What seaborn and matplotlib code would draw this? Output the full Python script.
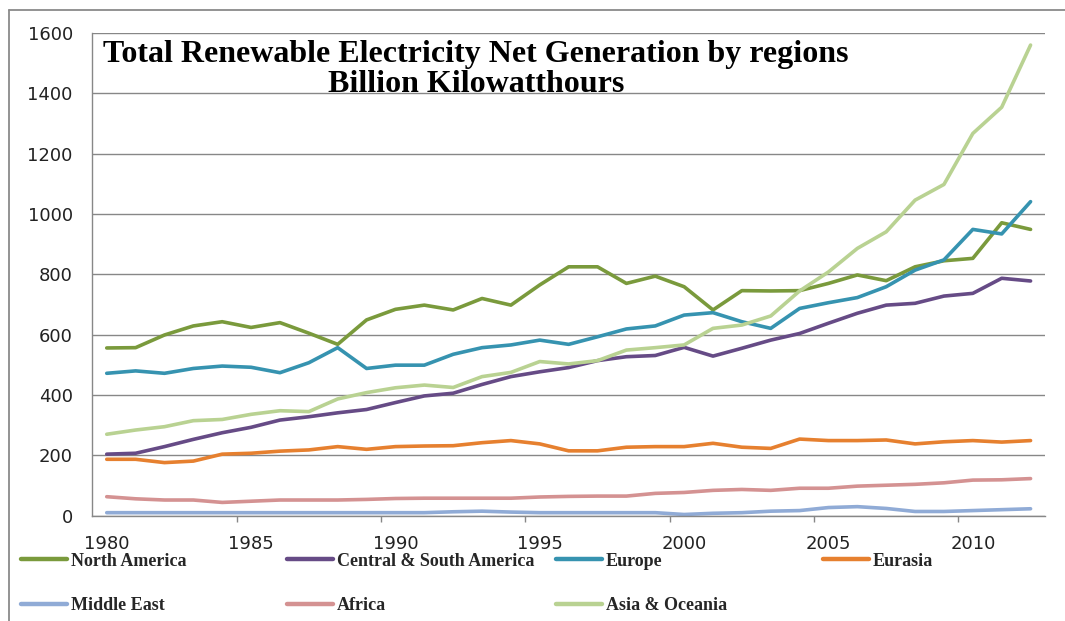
import matplotlib
matplotlib.use("Agg")
import matplotlib.pyplot as plt
from matplotlib.lines import Line2D
import seaborn as sns
import pandas as pd

# Renewable electricity net generation, billion kWh, 1980-2012
years = list(range(1980, 2013))

north_america = [556, 557, 599, 629, 643, 624, 640, 605, 568, 649,
                 684, 698, 682, 720, 698, 765, 825, 825, 770, 794,
                 759, 682, 746, 745, 746, 770, 798, 779, 825, 845,
                 853, 971, 949]
central_south_america = [204, 207, 229, 253, 275, 293, 317, 328, 341, 352,
                         375, 397, 406, 435, 461, 477, 491, 514, 527, 531,
                         558, 529, 555, 582, 604, 638, 671, 698, 704, 728,
                         737, 787, 778]
europe = [472, 480, 472, 488, 496, 492, 474, 507, 557, 488,
          499, 499, 535, 557, 566, 582, 568, 593, 619, 629,
          665, 673, 643, 621, 687, 706, 723, 759, 814, 848,
          949, 934, 1041]
eurasia = [187, 187, 176, 181, 204, 207, 214, 218, 229, 220,
           229, 231, 232, 242, 249, 238, 215, 215, 227, 229,
           229, 240, 227, 223, 254, 249, 249, 251, 238, 245,
           249, 244, 249]
middle_east = [10, 10, 10, 10, 10, 10, 10, 10, 10, 10,
               10, 10, 13, 15, 12, 10, 10, 10, 10, 10,
               4, 8, 10, 15, 17, 27, 30, 24, 14, 14,
               17, 20, 23]
africa = [63, 56, 52, 52, 44, 48, 52, 52, 52, 54,
          57, 58, 58, 58, 58, 62, 64, 65, 65, 74,
          77, 84, 87, 84, 91, 91, 98, 101, 104, 109,
          118, 119, 123]
asia_oceania = [270, 284, 295, 315, 319, 336, 348, 345, 387, 408,
                424, 433, 425, 461, 475, 511, 503, 514, 549, 557,
                566, 621, 632, 662, 745, 808, 886, 941, 1046, 1098,
                1267, 1354, 1560]

regions = ["North America", "Central & South America", "Europe", "Eurasia",
           "Middle East", "Africa", "Asia & Oceania"]
series = [north_america, central_south_america, europe, eurasia,
          middle_east, africa, asia_oceania]
colors = ["#7A9A3C", "#664B86", "#3693B0", "#E6802F",
          "#90ABD6", "#D49292", "#B9D292"]
palette = dict(zip(regions, colors))

y_ticks = [0, 200, 400, 600, 800, 1000, 1200, 1400, 1600]
x_label_years = [1980, 1985, 1990, 1995, 2000, 2005, 2010]

df = pd.DataFrame({
    "Year": [y for _ in regions for y in years],
    "Value": [v for s in series for v in s],
    "Region": [r for r in regions for _ in years],
})

sns.set_style("white")
plt.rcParams["font.family"] = ["DejaVu Sans"]

W, H = 1065, 621
fig = plt.figure(figsize=(W / 100, H / 100), dpi=100)
ax = fig.add_axes([92.3 / W, 1 - 515.7 / H, (1045 - 92.3) / W, (515.7 - 33) / H])

sns.lineplot(data=df, x="Year", y="Value", hue="Region", hue_order=regions,
             palette=palette, linewidth=2.6, legend=False, ax=ax)
for ln in ax.get_lines():
    ln.set_solid_joinstyle("round")
    ln.set_solid_capstyle("round")

grid_c = "#878787"
ax.set_xlim(1979.5, 2012.5)
ax.set_ylim(0, 1600)
ax.set_yticks(y_ticks)
ax.set_yticklabels([str(v) for v in y_ticks])
ax.set_xticks(x_label_years)
ax.set_xticklabels([str(v) for v in x_label_years])
ax.set_xticks([y - 0.5 for y in x_label_years[1:]], minor=True)
ax.yaxis.grid(True, color=grid_c, linewidth=1.0)
ax.xaxis.grid(False)
ax.set_axisbelow(True)
ax.set_xlabel("")
ax.set_ylabel("")

for side in ("top", "right"):
    ax.spines[side].set_visible(False)
for side in ("left", "bottom"):
    ax.spines[side].set_color(grid_c)
    ax.spines[side].set_linewidth(1.0)

ax.tick_params(axis="y", which="major", length=5, width=1, color=grid_c,
               pad=9, labelsize=13, labelcolor="#222222")
ax.tick_params(axis="x", which="major", length=0, pad=14, labelsize=13,
               labelcolor="#222222")
ax.tick_params(axis="x", which="minor", length=4.5, width=1, color=grid_c,
               direction="out", bottom=True)

# Chart title inside the plot area
fig.text(476 / W, 1 - 69.5 / H,
         "Total Renewable Electricity Net Generation by regions\nBillion Kilowatthours",
         ha="center", va="center", multialignment="center", linespacing=1.06,
         family="Liberation Serif", fontweight="bold", fontsize=23, color="black")

# Legend below the plot, laid out in four columns
col_x = [21, 287, 556, 823]
columns = [[0, 4], [1, 5], [2, 6], [3]]
for cx, idx in zip(col_x, columns):
    handles = [Line2D([], [], color=colors[i], linewidth=3.2) for i in idx]
    labels = [regions[i] for i in idx]
    cy = 561 if len(idx) == 1 else 583.5
    fig.legend(handles, labels, loc="center left",
               bbox_to_anchor=(cx / W, 1 - cy / H),
               frameon=False, borderpad=0, borderaxespad=0,
               handlelength=2.55, handletextpad=0.2, labelspacing=1.55,
               prop={"family": "Liberation Serif", "weight": "bold", "size": 13})

# Thin outer frame along the top and left of the chart area
frame_c = "#8A8A8A"
fig.add_artist(Line2D([8.6 / W, 1.0], [1 - 10.3 / H, 1 - 10.3 / H],
                      transform=fig.transFigure, color=frame_c, linewidth=1.3))
fig.add_artist(Line2D([8.6 / W, 8.6 / W], [0.0, 1 - 10.3 / H],
                      transform=fig.transFigure, color=frame_c, linewidth=1.3))

fig.savefig("out.png", dpi=100, facecolor="white")
